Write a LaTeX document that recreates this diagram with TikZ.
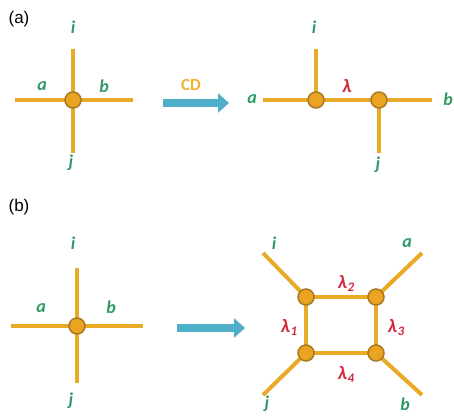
\documentclass[tikz,border=0pt]{standalone}
\usepackage{fontspec}
\setmainfont{Carlito}
\newfontfamily\labfont{Liberation Sans}
\usetikzlibrary{arrows.meta}
\definecolor{lineor}{HTML}{E9AA28}
\definecolor{nodefill}{HTML}{EBA421}
\definecolor{nodeedge}{HTML}{A87822}
\definecolor{labgreen}{HTML}{2E9A66}
\definecolor{labred}{HTML}{D4283C}
\definecolor{arrblue}{HTML}{4FAEC9}
\definecolor{cdor}{HTML}{F0B232}
\newcommand{\lamsub}[1]{λ\kern0.5pt\raisebox{-3pt}{\fontsize{13}{13}\selectfont #1}}
\tikzset{
  leg/.style={draw=lineor, line width=4pt},
  vtx/.style={circle, fill=nodefill, draw=nodeedge, line width=1.5pt, minimum size=16pt, inner sep=0pt},
  pt/.style={inner sep=0pt, minimum size=0pt},
  gl/.style={text=labgreen, font=\fontsize{18}{18}\selectfont\itshape\bfseries},
  rl/.style={text=labred, font=\fontsize{19}{19}\selectfont\itshape\bfseries},
  panel/.style={font=\labfont\fontsize{17}{17}\selectfont},
  bigarrow/.style={draw=arrblue, line width=8.5pt, -{Triangle[length=11pt,width=19pt]}}
}
\begin{document}
\begin{tikzpicture}[x=1pt,y=-1pt]
\useasboundingbox (0,0) rectangle (454,418);
% panel labels
\node[panel] (pa) at (19,19) {(a)};
\node[panel] (pb) at (19,207) {(b)};

% ---- (a) left: single vertex
\coordinate (a1c) at (73,100);
\coordinate (a1l) at (15,100);
\coordinate (a1r) at (133,100);
\coordinate (a1t) at (73,49);
\coordinate (a1b) at (73,153);
\draw[leg] (a1l) -- (a1r);
\draw[leg] (a1t) -- (a1b);
\node[vtx] (v1) at (a1c) {};
\node[gl] (a1i) at (73,27) {i};
\node[gl] (a1a) at (42,86) {a};
\node[gl] (a1bb) at (104,86) {b};
\node[gl] (a1j) at (71,163) {j};

% CD arrow
\coordinate (cds) at (163,103);
\coordinate (cde) at (229,103);
\draw[bigarrow] (cds) -- (cde);
\node[text=cdor, font=\fontsize{17}{17}\selectfont\bfseries] (cd) at (191,85) {CD};

% ---- (a) right: two vertices
\coordinate (a2l) at (263,100);
\coordinate (a2r) at (432,100);
\coordinate (a2t) at (316,49);
\coordinate (a2b) at (379,153);
\draw[leg] (a2l) -- (a2r);
\draw[leg] (a2t) -- (316,100);
\draw[leg] (379,100) -- (a2b);
\node[vtx] (v2) at (316,100) {};
\node[vtx] (v3) at (379,100) {};
\node[gl] (a2i) at (314,27) {i};
\node[gl] (a2a) at (252,99) {a};
\node[gl] (a2bb) at (448,99) {b};
\node[gl] (a2j) at (378,165) {j};
\node[rl] (lam) at (347,86) {λ};

% ---- (b) left: single vertex
\coordinate (b1c) at (77,326);
\coordinate (b1l) at (11,326);
\coordinate (b1r) at (143,326);
\coordinate (b1t) at (77,268);
\coordinate (b1b) at (77,383);
\draw[leg] (b1l) -- (b1r);
\draw[leg] (b1t) -- (b1b);
\node[vtx] (v4) at (b1c) {};
\node[gl] (b1i) at (73,243) {i};
\node[gl] (b1a) at (41,308) {a};
\node[gl] (b1bb) at (111,307) {b};
\node[gl] (b1j) at (71,401) {j};

% arrow
\coordinate (bas) at (177,328);
\coordinate (bae) at (245,328);
\draw[bigarrow] (bas) -- (bae);

% ---- (b) right: square
\coordinate (eI) at (263,253);
\coordinate (eA) at (422,253);
\coordinate (eJ) at (263,395);
\coordinate (eB) at (422,395);
\node[pt] (s1) at (306,297) {};
\node[pt] (s2) at (376,297) {};
\node[pt] (s3) at (306,353) {};
\node[pt] (s4) at (376,353) {};
\draw[leg] (eI) -- (s1.center);
\draw[leg] (eA) -- (s2.center);
\draw[leg] (eJ) -- (s3.center);
\draw[leg] (eB) -- (s4.center);
\draw[leg] (s1.center) -- (s2.center) -- (s4.center) -- (s3.center) -- cycle;
\node[vtx] (q1) at (s1) {};
\node[vtx] (q2) at (s2) {};
\node[vtx] (q3) at (s3) {};
\node[vtx] (q4) at (s4) {};
\node[gl] (bi) at (274,243) {i};
\node[gl] (ba) at (407,243) {a};
\node[gl] (bj) at (267,404) {j};
\node[gl] (bb) at (405,404) {b};
\node[rl] (l1) at (289,327) {\lamsub{1}};
\node[rl] (l2) at (346,283) {\lamsub{2}};
\node[rl] (l3) at (396,327) {\lamsub{3}};
\node[rl] (l4) at (346,374) {\lamsub{4}};
\end{tikzpicture}
\end{document}
